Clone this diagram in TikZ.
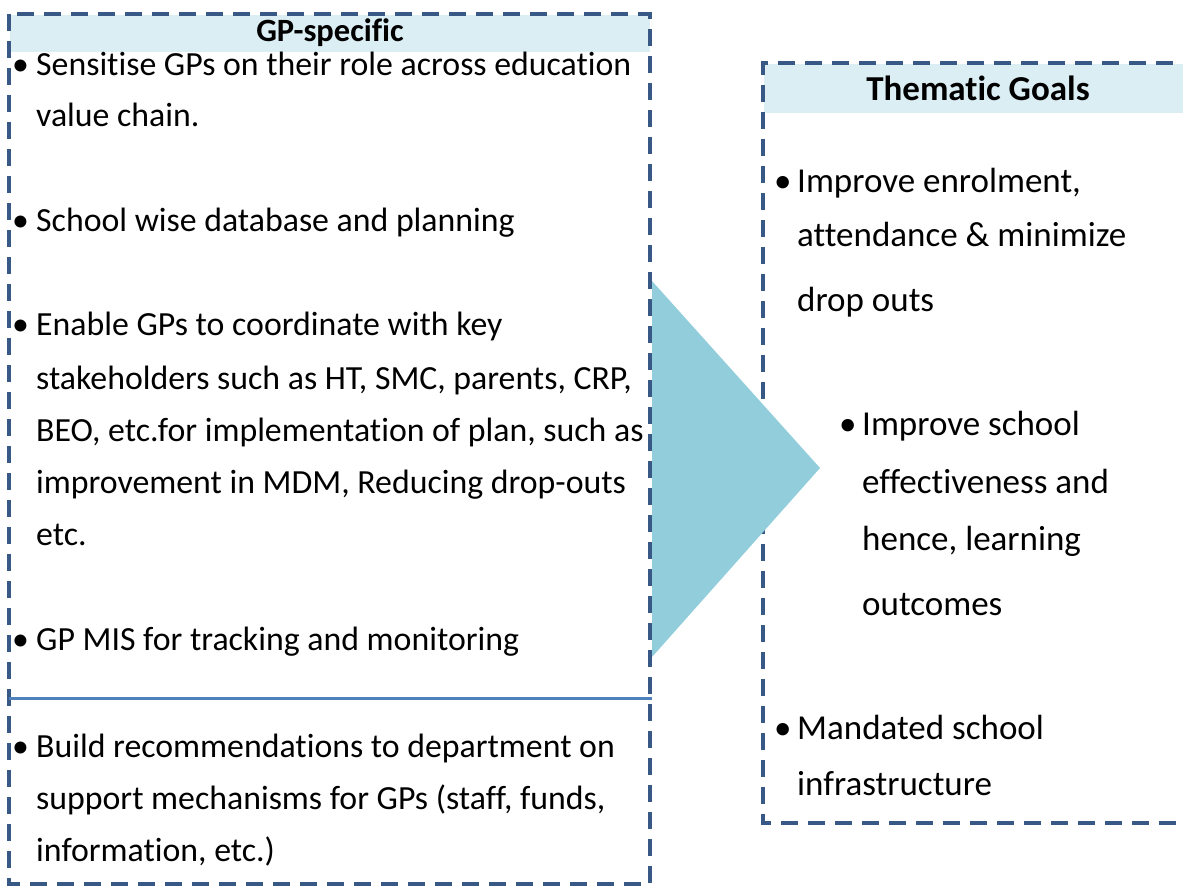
\documentclass[tikz,border=0pt]{standalone}
\usepackage{fontspec}
\setmainfont[Ligatures=NoCommon]{Carlito}
\definecolor{dashblue}{RGB}{56,88,134}
\definecolor{sepblue}{RGB}{79,129,189}
\definecolor{headfill}{RGB}{218,238,243}
\definecolor{trifill}{RGB}{146,205,220}
\tikzset{
  boxline/.style={draw=dashblue,line width=3.6pt,dash pattern=on 17pt off 10pt},
  lt/.style={anchor=base west,inner sep=0pt,font=\fontsize{33.8}{40}\selectfont},
  rt/.style={anchor=base west,inner sep=0pt,font=\fontsize{35}{42}\selectfont},
  lhead/.style={anchor=base,inner sep=0pt,font=\fontsize{32.5}{38}\selectfont\bfseries},
  rhead/.style={anchor=base,inner sep=0pt,font=\fontsize{35}{42}\selectfont\bfseries},
}
\begin{document}
\begin{tikzpicture}[x=1pt,y=-1pt]
\useasboundingbox (0,0) rectangle (1183,888);
% right box
\fill[headfill] (764,64) rectangle (1183,113);
\draw[boxline] (1200,63) -- (763,63) -- (763,823) -- (1200,823);
% triangle
\fill[trifill] (652,281) -- (820,468) -- (652,657) -- cycle;
% left box
\fill[headfill] (10,15) rectangle (650,52);
\draw[boxline] (9,14) rectangle (650,884);
\draw[sepblue,line width=3pt] (9,698) -- (652,698);
% left texts
\node[lhead] (h1) at (330,42) {GP-specific};
\node[lt] (b1) at (12,76) {•};
\node[lt] (l1) at (36,76) {Sensitise GPs on their role across education};
\node[lt] (l2) at (36,127) {value chain.};
\node[lt] (b2) at (12,231) {•};
\node[lt] (l3) at (36,231) {School wise database and planning};
\node[lt] (b3) at (12,335) {•};
\node[lt] (l4) at (36,335) {Enable GPs to coordinate with key};
\node[lt] (l5) at (36,389) {stakeholders such as HT, SMC, parents, CRP,};
\node[lt] (l6) at (36,441) {BEO, etc.for implementation of plan, such as};
\node[lt] (l7) at (36,493) {improvement in MDM, Reducing drop-outs};
\node[lt] (l8) at (36,545) {etc.};
\node[lt] (b4) at (12,650) {•};
\node[lt] (l9) at (36,650) {GP MIS for tracking and monitoring};
\node[lt] (b5) at (12,757) {•};
\node[lt] (l10) at (36,757) {Build recommendations to department on};
\node[lt] (l11) at (36,809) {support mechanisms for GPs (staff, funds,};
\node[lt] (l12) at (36,861) {information, etc.)};
% right texts
\node[rhead] (h2) at (978,101) {Thematic Goals};
\node[rt] (rb1) at (774,192) {•};
\node[rt] (r1) at (797,192) {Improve enrolment,};
\node[rt] (r2) at (797,246) {attendance \& minimize};
\node[rt] (r3) at (797,311) {drop outs};
\node[rt] (rb2) at (839,435) {•};
\node[rt] (r4) at (862,435) {Improve school};
\node[rt] (r5) at (862,493) {effectiveness and};
\node[rt] (r6) at (862,550) {hence, learning};
\node[rt] (r7) at (862,615) {outcomes};
\node[rt] (rb3) at (774,739) {•};
\node[rt] (r8) at (797,739) {Mandated school};
\node[rt] (r9) at (797,795) {infrastructure};
\end{tikzpicture}
\end{document}
